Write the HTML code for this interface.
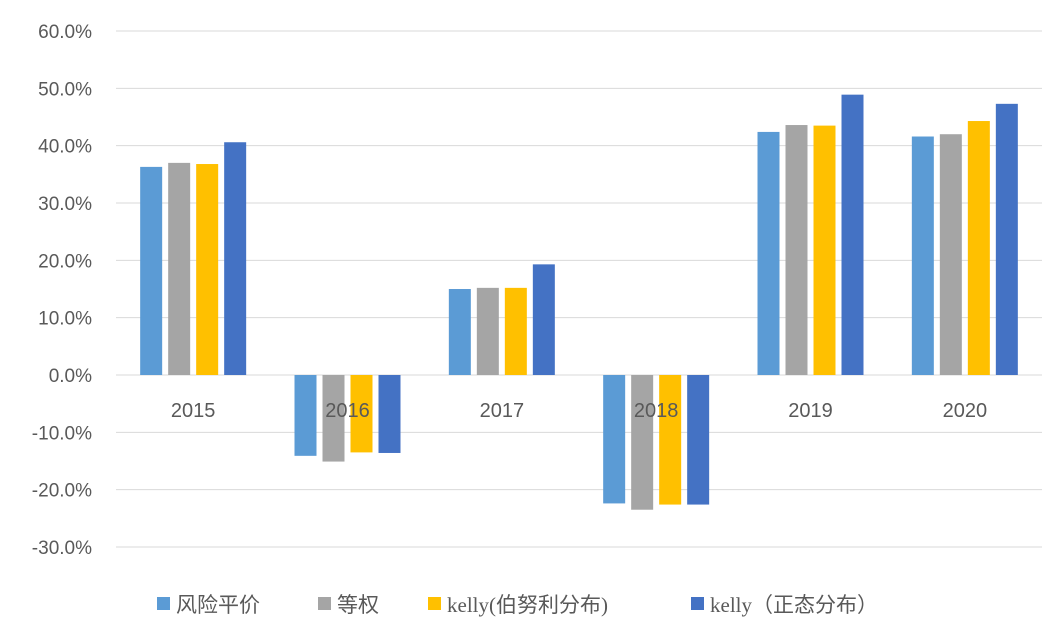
<!DOCTYPE html>
<html><head><meta charset="utf-8"><style>
body{margin:0;background:#fff;}
svg{display:block;font-family:"Liberation Sans","Noto Sans CJK SC",sans-serif;}
</style></head><body>
<svg id="chart" width="1056" height="633"></svg>
<script>
const categories=["2015","2016","2017","2018","2019","2020"];
const seriesNames=["风险平价","等权","kelly(伯努利分布)","kelly（正态分布）"];
const riskParity=[36.3,-14.1,15.0,-22.4,42.4,41.6];
const equalWeight=[37.0,-15.1,15.2,-23.5,43.6,42.0];
const kellyBern=[36.8,-13.5,15.2,-22.6,43.5,44.3];
const kellyNorm=[40.6,-13.6,19.3,-22.6,48.9,47.3];
const yTicks=[60,50,40,30,20,10,0,-10,-20,-30];
const colors=["#5B9BD5","#A5A5A5","#FFC000","#4472C4"];
const series=[riskParity,equalWeight,kellyBern,kellyNorm];
const NS="http://www.w3.org/2000/svg";
const svg=document.getElementById('chart');
const x0=116,x1=1042,catW=(x1-x0)/categories.length;
const y=v=>375-v*5.733;
function mk(t,a){const e=document.createElementNS(NS,t);for(const k in a)e.setAttribute(k,a[k]);svg.appendChild(e);return e;}
yTicks.forEach(v=>{
 const l=mk('line',{x1:x0,x2:x1,y1:y(v),y2:y(v),stroke:'#D9D9D9','stroke-width':1});
 
 
 const t=mk('text',{x:92,y:y(v)+7,'text-anchor':'end','font-size':19,fill:'#595959'});
 t.textContent=v.toFixed(1)+'%';
 
 
});
const bw=22,step=28;
categories.forEach((c,i)=>{
 const cx=x0+catW*(i+0.5);
 series.forEach((s,j)=>{
  const v=s[i];const bx=cx-2*step+3+j*step;
  const r=mk('rect',{x:bx,y:Math.min(y(v),y(0)),width:bw,height:Math.abs(y(v)-y(0)),fill:colors[j]});
  
  
 });
 const t=mk('text',{x:cx,y:417,'text-anchor':'middle','font-size':20,fill:'#595959'});
 t.textContent=c;
 
 
});
const lx=[157,318,428,691];
seriesNames.forEach((n,j)=>{
 const r=mk('rect',{x:lx[j],y:597,width:13,height:13,fill:colors[j]});
 
 
 const t=mk('text',{x:lx[j]+19,y:612,'font-size':21,fill:'#595959','font-family':'"Liberation Serif","Noto Sans CJK SC",serif'});
 t.textContent=n;
 
 
});
</script>
</body></html>
